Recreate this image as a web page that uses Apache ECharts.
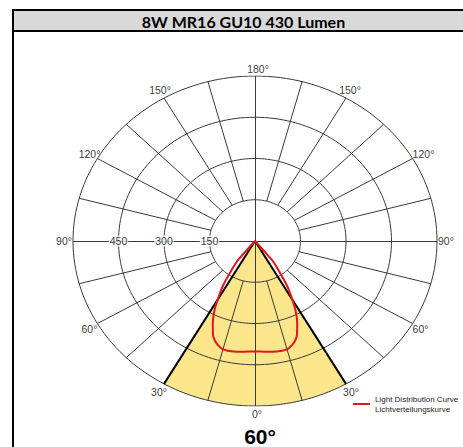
<!DOCTYPE html>
<html>
<head>
<meta charset="utf-8">
<script src="https://cdn.jsdelivr.net/npm/echarts@6/dist/echarts.min.js"></script>
<style>
html, body { margin: 0; padding: 0; background: #fff; }
#chart { width: 463px; height: 447px; }
</style>
</head>
<body>
<div id="chart"></div>
<script>
// 配光曲线数据：角度(0° = 正下方)，光强
var curveAngles = [0, 5, 10, 15, 18, 20, 22, 25, 28, 30, 33, 36, 38, 39, 40];
var curveValues = [402, 404, 408, 408, 397, 386, 369, 329, 284, 246, 194, 133, 105, 85, 0];
// 同心圆刻度
var ringValues = [150, 300, 450, 600];
var scaleLabels = ['150', '300', '450'];
// 角度标签
var angleTicks = [0, 30, 60, 90, 120, 150, 180];
var beamAngle = 60;
var titleText = '8W MR16 GU10 430 Lumen';
var beamText = '60°';
var legendName = 'Light Distribution Curve\nLichtverteilungskurve';

var outer = ringValues[ringValues.length - 1];

// 极坐标 -> 直角坐标 (角度从正下方起算，向右为正)
function pt(a, r) {
    var t = a * Math.PI / 180;
    return [r * Math.sin(t), -r * Math.cos(t)];
}

// 配光曲线（左右对称）
var curveData = [];
for (var i = curveAngles.length - 1; i >= 0; i--) curveData.push(pt(-curveAngles[i], curveValues[i]));
for (var j = 1; j < curveAngles.length; j++) curveData.push(pt(curveAngles[j], curveValues[j]));

// 圆环
var ringLines = ringValues.map(function (r) {
    var coords = [];
    for (var a = 0; a <= 360; a += 2) coords.push(pt(a, r));
    return { coords: coords };
});

// 放射线（每15°，从内圈开始）
var spokeLines = [];
for (var a = 15; a < 360; a += 15) {
    if (a % 90 === 0) continue;
    spokeLines.push({ coords: [pt(a, ringValues[0]), pt(a, outer)] });
}
spokeLines.push({ coords: [pt(0, outer), pt(180, outer)] });
spokeLines.push({ coords: [pt(90, outer), pt(-90, outer)] });

// 光束角边线
var beamEdges = [
    { coords: [[0, 0], pt(-beamAngle / 2, outer)] },
    { coords: [[0, 0], pt(beamAngle / 2, outer)] }
];

function labelPlacement(a, s) {
    var left = s < 0;
    if (a === 0) return { align: 'center', verticalAlign: 'top', offset: [2, 2] };
    if (a === 180) return { align: 'center', verticalAlign: 'bottom', offset: [3, -2] };
    if (a === 30) return { align: 'center', verticalAlign: 'top', offset: [s * 5, 3] };
    if (a === 150) return { align: 'center', verticalAlign: 'bottom', offset: [s * 4, -3] };
    if (a === 90) return { align: left ? 'right' : 'left', verticalAlign: 'middle', offset: [left ? -1 : 1, 0] };
    if (a === 60) return { align: left ? 'right' : 'left', verticalAlign: 'middle', offset: [0, 5.5] };
    return { align: left ? 'right' : 'left', verticalAlign: 'middle', offset: [left ? 3 : 0, -4.5] };
}

var angleLabelData = [];
angleTicks.forEach(function (a) {
    var sides = (a === 0 || a === 180) ? [1] : [-1, 1];
    sides.forEach(function (s) {
        var lp = labelPlacement(a, s);
        angleLabelData.push({
            value: pt(s * a, outer),
            name: a + '°',
            label: { align: lp.align, verticalAlign: lp.verticalAlign, offset: lp.offset }
        });
    });
});

var scaleLabelData = scaleLabels.map(function (t, k) {
    return {
        value: [-ringValues[k], 0],
        name: t,
        label: { align: 'center', verticalAlign: 'middle', offset: [0, 0] }
    };
});

var labelFont = {
    show: true,
    position: 'top',
    distance: 0,
    formatter: '{b}',
    fontFamily: 'Liberation Sans',
    fontSize: 10.5,
    color: '#000'
};

var chart = echarts.init(document.getElementById('chart'), null, { renderer: 'svg' });
chart.setOption({
    animation: false,
    grid: { left: 73, right: 26, top: 76, bottom: 41 },
    xAxis: { type: 'value', min: -outer, max: outer, show: false },
    yAxis: { type: 'value', min: -outer, max: outer, show: false },
    legend: {
        data: [legendName],
        left: 353,
        top: 394,
        padding: 0,
        icon: 'rect',
        itemWidth: 17,
        itemHeight: 2,
        textStyle: { fontFamily: 'Liberation Sans', fontSize: 8, lineHeight: 10, color: '#222' }
    },
    graphic: [
        {
            type: 'rect',
            shape: { x: 13, y: 10, width: 470, height: 21 },
            style: { fill: '#d9d9d9', stroke: '#000', lineWidth: 2 }
        },
        {
            type: 'line',
            shape: { x1: 13, y1: 31, x2: 13, y2: 447 },
            style: { stroke: '#000', lineWidth: 2 }
        },
        {
            type: 'text',
            x: 243.5,
            y: 21,
            style: {
                text: titleText,
                fill: '#000',
                font: 'bold 16px Lato',
                textAlign: 'center',
                textVerticalAlign: 'middle'
            }
        },
        {
            type: 'text',
            x: 260,
            y: 436,
            style: {
                text: beamText,
                fill: '#000',
                font: 'bold 21px "Liberation Sans"',
                textAlign: 'center',
                textVerticalAlign: 'middle'
            }
        }
    ],
    series: [
        {
            // 光束角填充
            type: 'custom',
            z: 1,
            silent: true,
            clip: false,
            data: [[0, 0]],
            renderItem: function (params, api) {
                var pts = [api.coord([0, 0])];
                for (var a = -beamAngle / 2; a <= beamAngle / 2; a += 1) pts.push(api.coord(pt(a, outer)));
                return { type: 'polygon', shape: { points: pts }, style: { fill: '#fce68c' } };
            }
        },
        {
            type: 'lines',
            coordinateSystem: 'cartesian2d',
            polyline: true,
            z: 2,
            silent: true,
            lineStyle: { color: '#3a3a3a', width: 1, opacity: 1 },
            data: ringLines
        },
        {
            type: 'lines',
            coordinateSystem: 'cartesian2d',
            z: 2,
            silent: true,
            lineStyle: { color: '#3a3a3a', width: 1, opacity: 1 },
            data: spokeLines
        },
        {
            type: 'lines',
            coordinateSystem: 'cartesian2d',
            z: 3,
            silent: true,
            lineStyle: { color: '#000', width: 2, opacity: 1 },
            data: beamEdges
        },
        {
            name: legendName,
            type: 'line',
            z: 4,
            clip: false,
            smooth: 0.3,
            showSymbol: false,
            color: '#e3161d',
            lineStyle: { width: 2 },
            data: curveData
        },
        {
            type: 'scatter',
            z: 5,
            silent: true,
            symbolSize: 0,
            clip: false,
            label: labelFont,
            data: angleLabelData
        },
        {
            type: 'scatter',
            z: 5,
            silent: true,
            symbolSize: 0,
            clip: false,
            label: Object.assign({}, labelFont, { backgroundColor: '#fff', padding: [0, 1] }),
            data: scaleLabelData
        }
    ]
});
</script>
</body>
</html>
